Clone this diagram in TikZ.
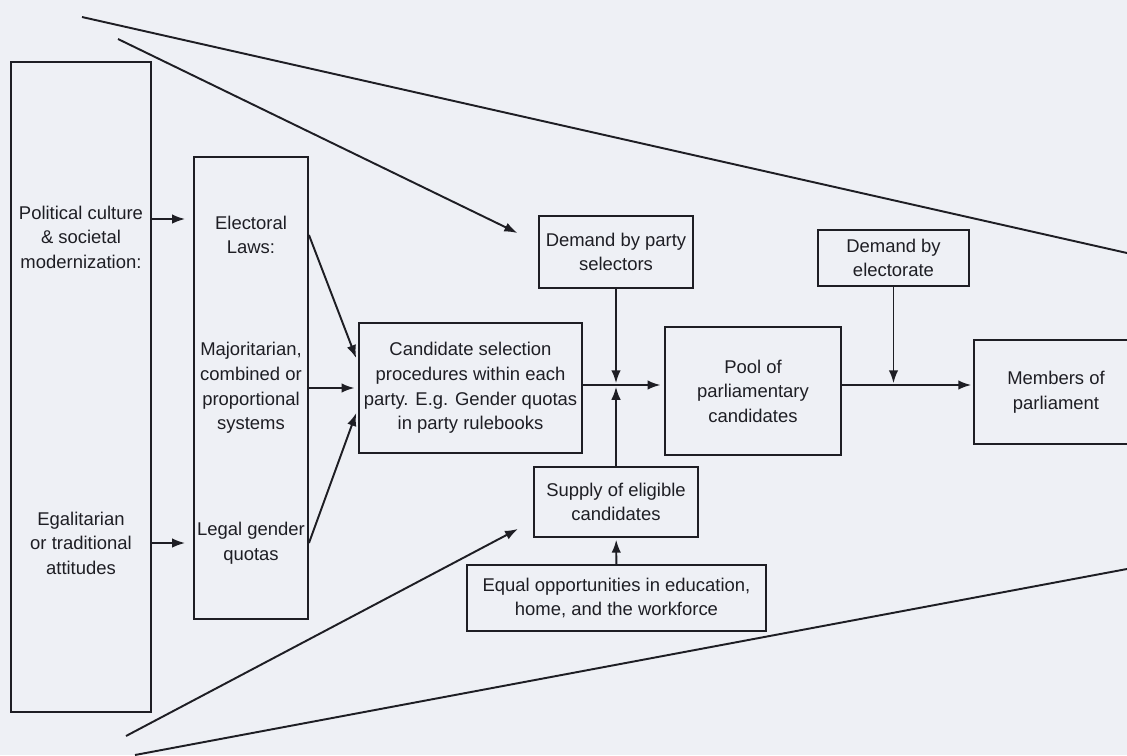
\documentclass[tikz,border=0pt]{standalone}
\usepackage{fontspec}
\setmainfont{Liberation Sans}
\usetikzlibrary{arrows.meta}
\definecolor{paper}{RGB}{238,240,245}
\definecolor{ink}{RGB}{30,30,36}
\tikzset{
	box/.style={draw=ink, line width=1.1pt, align=center, inner sep=1pt, text=ink, font=\fontsize{10.5}{14}\selectfont},
	txt/.style={align=center, inner sep=1pt, text=ink, font=\fontsize{10.5}{14}\selectfont},
	arr/.style={draw=ink, line width=1.1pt, -{Latex[length=2.6mm,width=1.9mm]}, shorten >=1pt},
	lne/.style={draw=ink, line width=1.1pt},
}

\begin{document}
\begin{tikzpicture}[x=0.02cm, y=-0.02cm]
			%%%%% START %%%%%
			\useasboundingbox (0,0) rectangle (1127,755);
			\fill[paper] (0,0) rectangle (1127,755);
			\clip (0,0) rectangle (1127,755);
			
			% left column
			\node[box, minimum width=2.8cm, minimum height=13cm] (pol) at (81,387) {};
			\node[txt] (cult) at (81,237) {Political culture\\\& societal\\modernization:};
			\node[txt] (egal) at (81,543) {Egalitarian\\or traditional\\attitudes};
			
			\node[box, minimum width=2.28cm, minimum height=9.24cm] (elec) at (251,388) {};
			\node[txt] (laws) at (251,235) {Electoral\\Laws:};
			\node[txt] (systems) at (251,388) {Majoritarian,\\combined or\\proportional\\systems};
			\node[txt] (quotas) at (251,543) {Legal gender\\quotas};
			
			% middle
			\node[box, minimum width=4.46cm, minimum height=2.6cm] (cand) at (470.5,388) {Candidate selection\\procedures within each\\party. E.g. Gender quotas\\in party rulebooks};
			\node[box, minimum width=3.08cm, minimum height=1.44cm] (dparty) at (616,252) {Demand by party\\selectors};
			\node[box, minimum width=3.28cm, minimum height=1.4cm] (supply) at (616,502) {Supply of eligible\\candidates};
			\node[box, minimum width=5.98cm, minimum height=1.32cm] (equal) at (616.5,598) {Equal opportunities in education,\\home, and the workforce};
			\node[box, minimum width=3.52cm, minimum height=2.56cm] (pool) at (753,391) {Pool of\\parliamentary\\candidates};
			\node[box, minimum width=3.02cm, minimum height=1.12cm] (delect) at (893.5,258) {Demand by\\electorate};
			\node[box, minimum width=3.28cm, minimum height=2.08cm] (members) at (1056,392) {Members of\\parliament};
			
			\coordinate (cultout) at (151,219);
			\coordinate (jn) at (616,385);
			\coordinate (jn2) at (893.5,385);
			
			% arrows
			\draw[arr, shorten >=4.5pt] (pol.east |- cultout) -- (elec.west |- cultout);
			\draw[arr, shorten >=4.5pt] (pol.east |- egal) -- (elec.west |- egal);
			
			\draw[arr, shorten >=3pt] (elec.east |- laws) -- ([yshift=0.5cm]cand.west);
			\draw[arr, shorten >=2pt] (elec.east |- systems) -- (cand.west |- systems);
			\draw[arr, shorten >=3pt] (elec.east |- quotas) -- ([yshift=-0.4cm]cand.west);
			
			\draw[arr, shorten >=2pt] (cand.east |- jn) -- (pool.west |- jn);
			\draw[arr] (dparty) -- (jn);
			\draw[arr] (supply) -- (jn);
			\draw[arr] (equal) -- (supply);
			\draw[arr] (pool.east |- jn2) -- (members.west |- jn2);
			\draw[arr] (delect) -- (jn2);
			
			% long lines from outside the frame
			\coordinate (srcA) at (82,17);
			\coordinate (exitA) at (1127,253);
			\coordinate (srcB) at (118,39);
			\coordinate (srcC) at (126,736);
			\coordinate (srcD) at (135,755);
			\coordinate (exitD) at (1127,569);
			
			\draw[lne] (srcA) -- (exitA);
			\draw[arr, shorten >=0.46cm] (srcB) -- ([yshift=0.18cm]dparty.west);
			\draw[arr, shorten >=0.34cm] (srcC) -- ([yshift=-0.38cm]supply.west);
			\draw[lne] (srcD) -- (exitD);
			%%%%% END %%%%%
\end{tikzpicture}
\end{document}
